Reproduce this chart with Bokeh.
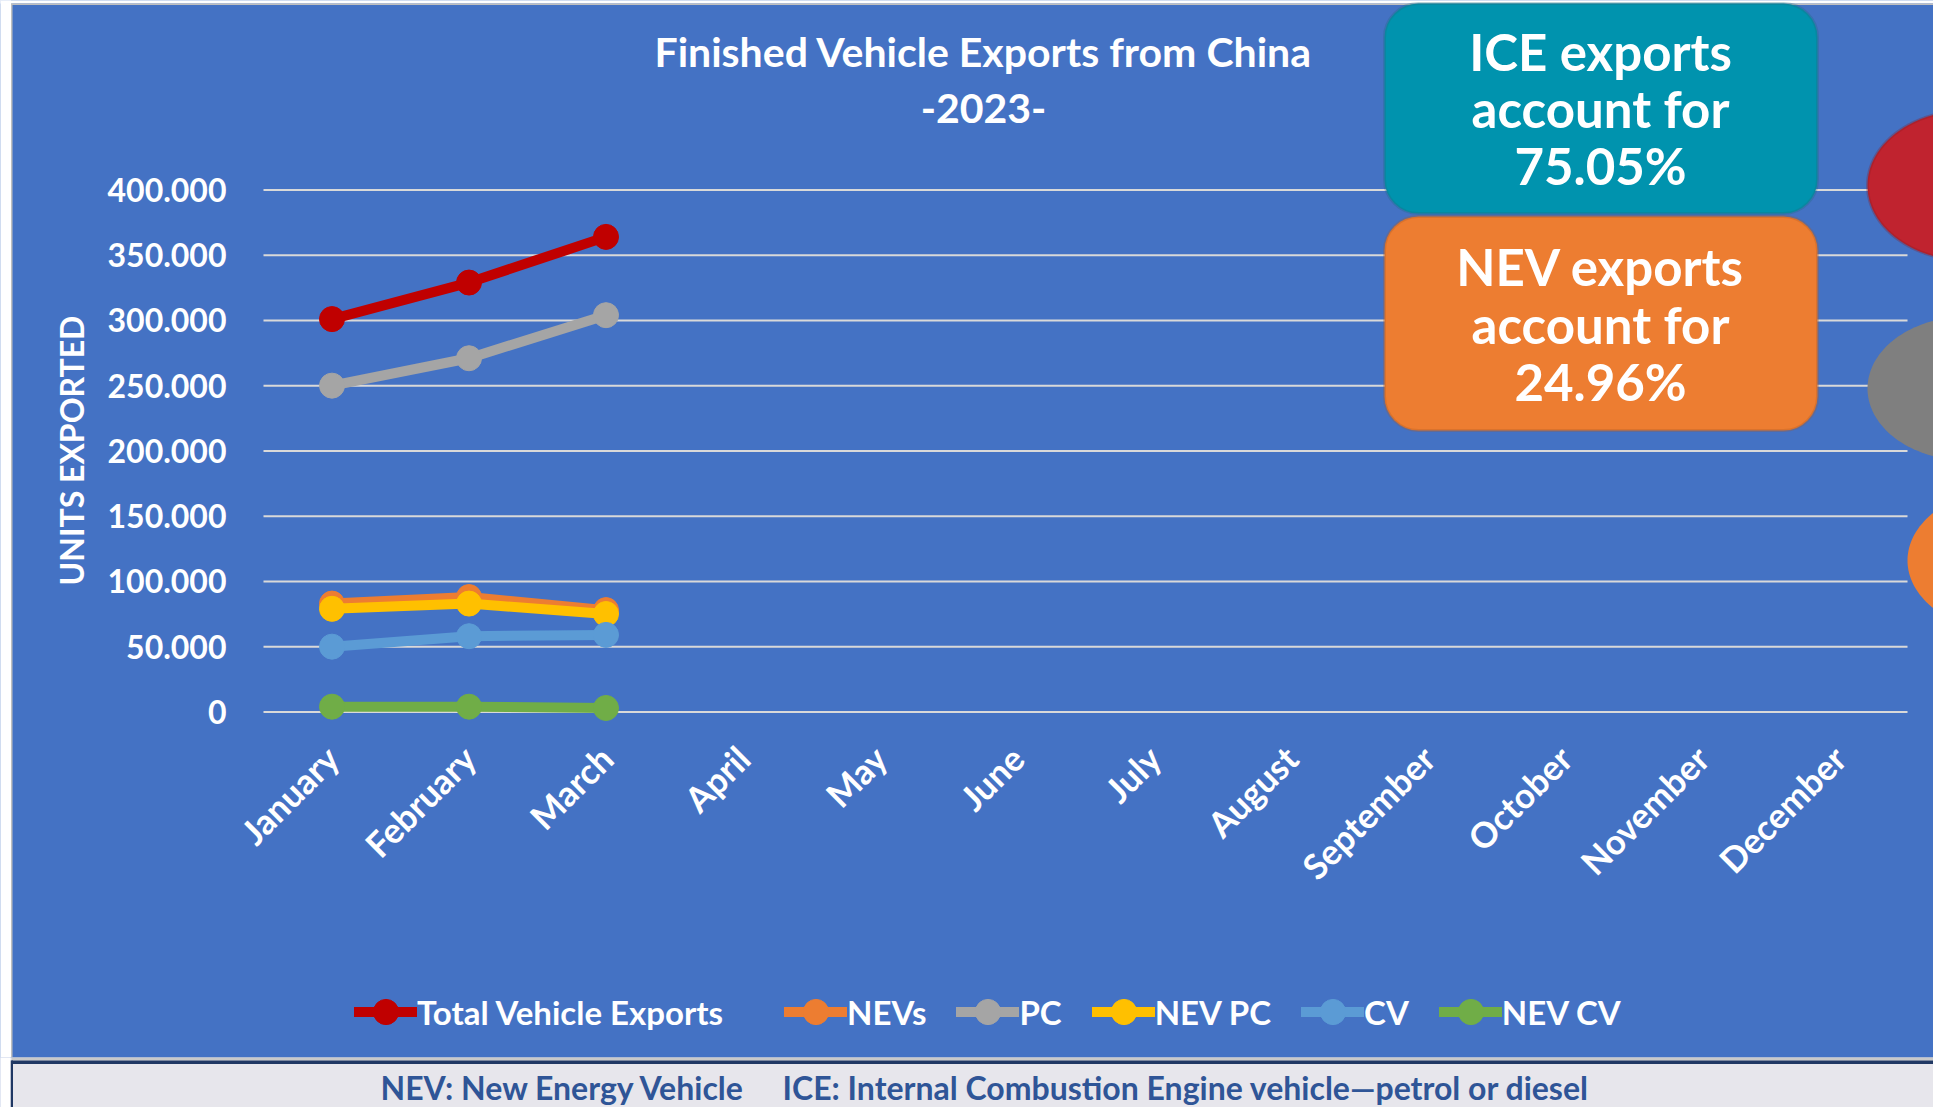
from math import pi
import numpy as np
from bokeh.plotting import figure
from bokeh.models import (Range1d, FixedTicker, Label, BoxAnnotation,
                          PolyAnnotation, Legend, LegendItem)
from bokeh.embed import file_html
from bokeh.resources import INLINE

# ---------------- data ----------------
months = ["January", "February", "March", "April", "May", "June", "July",
          "August", "September", "October", "November", "December"]
data_months = ["January", "February", "March"]
total_exports = [301000, 329000, 364000]
nev_exports = [83000, 88000, 78000]
pc_exports = [250000, 271000, 304000]
nev_pc_exports = [79000, 83000, 75000]
cv_exports = [50000, 58000, 59000]
nev_cv_exports = [4000, 4000, 3000]
series_names = ["Total Vehicle Exports", "NEVs", "PC", "NEV PC", "CV", "NEV CV"]
series_colors = ["#C00000", "#ED7D31", "#A5A5A5", "#FFC000", "#5B9BD5", "#70AD47"]
y_ticks = [0, 50000, 100000, 150000, 200000, 250000, 300000, 350000, 400000]
y_tick_labels = ["0", "50.000", "100.000", "150.000", "200.000", "250.000",
                 "300.000", "350.000", "400.000"]
title_line1 = "Finished Vehicle Exports from China"
title_line2 = "-2023-"
ice_text = ["ICE exports", "account for", "75.05%"]
nev_text = ["NEV exports", "account for", "24.96%"]
footnote_1 = "NEV: New Energy Vehicle"
footnote_2 = "ICE: Internal Combustion Engine vehicle\u2014petrol or diesel"

# ---------------- layout (page pixels) ----------------
W, H = 1933, 1107
AREA_L, AREA_R = 263.0, 1907.0      # plot area left/right
AREA_T, AREA_B = 189.4, 711.4       # plot area top (400k) / bottom (0)
Y_MIN, Y_MAX = 0, 400000
n_cat = len(months)
px_per_cat = (AREA_R - AREA_L) / n_cat
px_per_unit = (AREA_B - AREA_T) / (Y_MAX - Y_MIN)
x_lo = -0.5 - AREA_L / px_per_cat
x_hi = -0.5 + (W - AREA_L) / px_per_cat
y_hi = Y_MAX + AREA_T / px_per_unit
y_lo = Y_MIN - (H - AREA_B) / px_per_unit

def sx(X):
    return X
def sy(Y):
    return H - Y

BLUE = "#4472C4"
FONT = "Lato"

p = figure(width=W, height=H, output_backend="svg", toolbar_location=None,
           x_range=Range1d(x_lo, x_hi), y_range=Range1d(y_lo, y_hi),
           min_border=0, min_border_left=0, min_border_right=0,
           min_border_top=0, min_border_bottom=0)
p.background_fill_color = BLUE
p.border_fill_color = BLUE
p.outline_line_color = None
p.xgrid.grid_line_color = None
p.ygrid.grid_line_color = None

# axes fixed at the plot-area edges (they take no panel room)
p.yaxis.fixed_location = -0.5
p.yaxis.bounds = (Y_MIN, Y_MAX)
p.xaxis.fixed_location = Y_MIN
p.yaxis.ticker = FixedTicker(ticks=y_ticks)
p.yaxis.major_label_overrides = dict(zip(y_ticks, y_tick_labels))
x_idx = list(range(n_cat))
p.xaxis.ticker = FixedTicker(ticks=x_idx)
p.xaxis.major_label_overrides = dict(zip(x_idx, months))

for ax in (p.xaxis[0], p.yaxis[0]):
    ax.axis_line_color = None
    ax.major_tick_line_color = None
    ax.minor_tick_line_color = None
    ax.major_tick_out = 0
    ax.major_tick_in = 0
    ax.major_label_text_color = "white"
    ax.major_label_text_font = FONT
    ax.major_label_text_font_style = "bold"

p.yaxis.major_label_text_font_size = "32px"
p.yaxis.major_label_standoff = 37
p.yaxis.axis_label = "UNITS EXPORTED"
p.yaxis.axis_label_text_font = FONT
p.yaxis.axis_label_text_font_style = "bold"
p.yaxis.axis_label_text_font_size = "32px"
p.yaxis.axis_label_text_color = "white"
p.yaxis.axis_label_standoff = 14

p.xaxis.major_label_text_font_size = "35px"
p.xaxis.major_label_orientation = pi / 4
p.xaxis.major_label_standoff = 40

# horizontal gridlines across the plot area, at the y ticks
p.segment(x0=[-0.5] * len(y_ticks), x1=[n_cat - 0.5] * len(y_ticks),
          y0=y_ticks, y1=y_ticks, line_color="#D9D9D9", line_width=2)

# series
series_values = [total_exports, nev_exports, pc_exports, nev_pc_exports,
                 cv_exports, nev_cv_exports]
xs_data = [months.index(m) for m in data_months]
items = []
for name, color, vals in zip(series_names, series_colors, series_values):
    lr = p.line(xs_data, vals, line_color=color, line_width=10, line_cap="round")
    sr = p.scatter(xs_data, vals, size=25, fill_color=color, line_color=color)
    items.append(LegendItem(label=name, renderers=[lr, sr]))

legend_style = dict(orientation="horizontal", glyph_width=63, glyph_height=63,
                    label_standoff=0, spacing=30, padding=0, margin=0,
                    border_line_color=None, background_fill_alpha=0,
                    label_text_font=FONT, label_text_font_style="bold",
                    label_text_font_size="33px", label_text_color="white",
                    label_text_baseline="middle")
p.add_layout(Legend(items=items[:1], location=(354, sy(1011.7 + 31.5)), **legend_style))
p.add_layout(Legend(items=items[1:], location=(784, sy(1011.7 + 31.5)), **legend_style))

def sbox(l, r, t_, b_, fill, line=None, lw=0, radius=0):
    p.add_layout(BoxAnnotation(left=sx(l), right=sx(r), top=sy(t_), bottom=sy(b_),
                               left_units="screen", right_units="screen",
                               top_units="screen", bottom_units="screen",
                               fill_color=fill, fill_alpha=1, line_color=line,
                               line_width=lw, border_radius=radius))

# white page edge + thin grey frame line
sbox(-5, 10.5, -5, 1057, "white")
sbox(10.5, 12, 3, 1057, "#BFBFBF")
sbox(-5, 1940, -5, 3, "white")
sbox(10.5, 1940, 3, 4.5, "#BFBFBF")

# title
for txt, yy in [(title_line1, 51), (title_line2, 108)]:
    p.add_layout(Label(x=sx(983), y=sy(yy), x_units="screen", y_units="screen",
                       text=txt, text_align="center", text_baseline="middle",
                       text_font=FONT, text_font_style="bold", text_font_size="41px",
                       text_color="white"))

# decorative ellipses at right edge
t = np.linspace(0, 2 * pi, 160)
for cx, cy, a, b, fc, lc in [(1967, 185, 100, 75, "#C0232F", "#8B1A22"),
                             (1967, 388, 100, 72, "#7F7F7F", None),
                             (2010, 560, 103, 72, "#ED7D31", None)]:
    p.add_layout(PolyAnnotation(xs=list(sx(cx + a * np.cos(t))),
                                ys=list(sy(cy + b * np.sin(t))),
                                xs_units="screen", ys_units="screen",
                                fill_color=fc, fill_alpha=1,
                                line_color=lc, line_width=3 if lc else 0))

# share boxes
def share_box(top, bottom, fill, border, lines, ys):
    sbox(1384, 1817, top, bottom, fill, border, 3, 34)
    for txt, yy in zip(lines, ys):
        p.add_layout(Label(x=sx(1600), y=sy(yy), x_units="screen", y_units="screen",
                           text=txt, text_align="center", text_baseline="middle",
                           text_font=FONT, text_font_style="bold",
                           text_font_size="51px", text_color="white"))

share_box(3, 213, "#0093AE", "#1E6E7D", ice_text, [51, 108, 165])
share_box(216, 430, "#ED7D31", "#AE5A21", nev_text, [266, 324, 381])

# footer strip
sbox(-5, 1940, 1057, 1120, "#E7E6EC")
sbox(11, 1940, 1057, 1060, "#C9C9C9")
sbox(11, 1940, 1060, 1063.5, "#203864")
sbox(10, 12.5, 1060, 1120, "#203864")
sbox(-5, 10, 1057, 1120, "white")

for txt, xx in [(footnote_1, 380), (footnote_2, 782)]:
    p.add_layout(Label(x=sx(xx), y=sy(1087), x_units="screen", y_units="screen",
                       text=txt, text_align="left", text_baseline="middle",
                       text_font=FONT, text_font_style="bold", text_font_size="32px",
                       text_color="#2F5597"))

open("out.html", "w").write(file_html(p, INLINE))
